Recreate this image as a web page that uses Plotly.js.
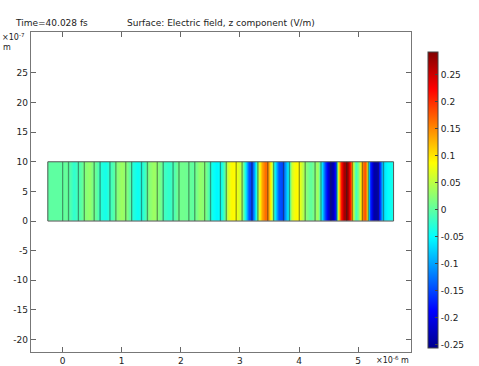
<!DOCTYPE html>
<html>
<head>
<meta charset="utf-8">
<script src="https://cdn.plot.ly/plotly-3.0.1.min.js"></script>
<style>html,body{margin:0;padding:0;background:#fff;}#chart{width:479px;height:366px;}</style>
</head>
<body>
<div id="chart"></div>
<script>
// Sample positions along the strip (x, in 1e-6 m) and Ez values (V/m)
const sampleX = [-0.25,-0.24,-0.1,0.0,0.05,0.11,0.19,0.27,0.32,0.37,0.45,0.53,0.58,0.64,0.72,0.80,0.86,0.91,1.0,1.08,1.13,1.18,1.27,1.35,1.40,1.45,1.54,1.62,1.67,1.71,1.80,1.88,1.93,1.97,2.05,2.14,2.20,2.25,2.32,2.40,2.46,2.52,2.60,2.69,2.74,2.79,2.86,2.93,2.99,3.04,3.09,3.15,3.20,3.25,3.30,3.37,3.44,3.49,3.54,3.58,3.65,3.72,3.78,3.83,3.88,3.94,4.00,4.05,4.10,4.20,4.27,4.32,4.37,4.43,4.50,4.56,4.61,4.65,4.70,4.76,4.82,4.87,4.90,4.95,5.00,5.04,5.09,5.13,5.16,5.20,5.26,5.32,5.37,5.42,5.50,5.59,5.60];
const sampleEz = [0.0,0.0,0.0,0.0,0.005,-0.005,-0.025,-0.01,0.0,0.02,0.03,0.01,0.0,-0.03,-0.04,-0.02,-0.005,0.02,0.035,0.02,0.0,-0.03,-0.045,-0.03,-0.01,0.02,0.035,0.02,0.005,-0.015,-0.025,-0.01,0.005,0.01,0.01,0.005,0.0,0.01,0.03,0.02,0.0,-0.04,-0.055,-0.04,0.0,0.06,0.09,0.085,0.06,0.02,-0.06,-0.14,-0.16,-0.09,0.03,0.13,0.17,0.14,0.06,-0.05,-0.14,-0.15,-0.1,-0.04,0.06,0.09,0.085,0.06,0.03,0.0,0.02,0.04,-0.03,-0.14,-0.22,-0.24,-0.17,0.05,0.2,0.27,0.28,0.2,0.08,-0.02,0.02,0.1,0.17,0.18,0.05,-0.15,-0.24,-0.24,-0.17,-0.07,-0.05,-0.04,-0.04];
// Strip extent (x in 1e-6 m, y in 1e-7 m)
const stripX = [-0.25, 5.6];
const stripY = [0, 10];
// Layer boundaries (x in 1e-6 m)
const layerEdges = [0,0.10,0.267,0.367,0.534,0.634,0.801,0.901,1.068,1.168,1.335,1.435,1.602,1.702,1.869,1.969,2.136,2.236,2.403,2.503,2.67,2.77,2.937,3.037,3.204,3.304,3.471,3.571,3.738,3.838,4.005,4.105,4.272,4.372,4.539,4.639,4.806,4.906,5.073,5.173,5.34,5.43];
// Axis ticks
const xTicks = [0,1,2,3,4,5];
const yTicks = [-20,-15,-10,-5,0,5,10,15,20,25];
const cbTicks = [-0.25,-0.2,-0.15,-0.1,-0.05,0,0.05,0.1,0.15,0.2,0.25];
const cbText = ['-0.25','-0.2','-0.15','-0.1','-0.05','0','0.05','0.1','0.15','0.2','0.25'];
const zRange = [-0.256, 0.292];

const jet = [[0,'rgb(0,0,140)'],[0.125,'rgb(0,0,255)'],[0.375,'rgb(0,255,255)'],[0.625,'rgb(255,255,0)'],[0.875,'rgb(255,0,0)'],[1,'rgb(128,0,0)']];

const heat = {
  type:'heatmap', x: sampleX, y:[stripY[0], (stripY[0]+stripY[1])/2, stripY[1]],
  z:[sampleEz, sampleEz], zsmooth:'best', colorscale: jet, zmin: zRange[0], zmax: zRange[1],
  hoverinfo:'skip',
  colorbar:{ thickness:10, thicknessmode:'pixels', len:296, lenmode:'pixels',
    x:1.042, xanchor:'left', xpad:0, y:0.475, yanchor:'middle', ypad:0,
    outlinewidth:1, outlinecolor:'#444', tickvals:cbTicks, ticktext:cbText,
    ticks:'inside', ticklen:3, tickcolor:'#444',
    tickfont:{family:'DejaVu Sans', size:9, color:'#222'} }
};
const ex=[], ey=[];
layerEdges.forEach(v=>{ ex.push(v,v,null); ey.push(stripY[0],stripY[1],null); });
const edges = {type:'scatter', mode:'lines', x:ex, y:ey, line:{color:'rgba(30,30,30,0.45)', width:1.3}, hoverinfo:'skip', showlegend:false};
const outline = {type:'scatter', mode:'lines',
  x:[stripX[0],stripX[1],stripX[1],stripX[0],stripX[0]],
  y:[stripY[0],stripY[0],stripY[1],stripY[1],stripY[0]],
  line:{color:'#555', width:1}, hoverinfo:'skip', showlegend:false};

const axisFont = {family:'DejaVu Sans', size:9, color:'#222'};
const layout = {
  width:479, height:366, margin:{l:31, r:67, t:32, b:14},
  paper_bgcolor:'#fff', plot_bgcolor:'#fff', showlegend:false,
  xaxis:{range:[-0.535,5.895], tickvals:xTicks, ticktext:xTicks.map(String), ticks:'inside', ticklen:5,
    tickcolor:'#666', mirror:'ticks', showline:true, linecolor:'#777', linewidth:1.3, showgrid:false, zeroline:false,
    tickfont:axisFont, fixedrange:true},
  yaxis:{range:[-22.1,31.9], tickvals:yTicks, ticktext:yTicks.map(String), ticks:'inside', ticklen:5,
    tickcolor:'#666', mirror:'ticks', showline:true, linecolor:'#777', linewidth:1.3, showgrid:false, zeroline:false,
    tickfont:axisFont, fixedrange:true},
  annotations:[
    {text:'Time=40.028 fs', xref:'paper', yref:'paper', x:-0.048, y:1.0, xanchor:'left', yanchor:'bottom', yshift:2, showarrow:false, font:{family:'DejaVu Sans', size:9, color:'#222'}},
    {text:'Surface: Electric field, z component (V/m)', xref:'paper', yref:'paper', x:0.5, y:1.0, xanchor:'center', yanchor:'bottom', yshift:2, showarrow:false, font:{family:'DejaVu Sans', size:9, color:'#222'}},
    {text:'×10<sup>-7</sup>', xref:'paper', yref:'paper', x:-0.081, y:1.0, xanchor:'left', yanchor:'top', yshift:2, showarrow:false, font:{family:'DejaVu Sans', size:8, color:'#222'}},
    {text:'m', xref:'paper', yref:'paper', x:-0.078, y:1.0, xanchor:'left', yanchor:'top', yshift:-9, showarrow:false, font:{family:'DejaVu Sans', size:8, color:'#222'}},
    {text:'×10<sup>-6</sup> m', xref:'paper', yref:'paper', x:1.0, y:0, xanchor:'right', yanchor:'top', yshift:-1, showarrow:false, font:{family:'DejaVu Sans', size:8, color:'#222'}}
  ]
};
Plotly.newPlot('chart', [heat, edges, outline], layout, {staticPlot:true, displayModeBar:false});
</script>
</body>
</html>
